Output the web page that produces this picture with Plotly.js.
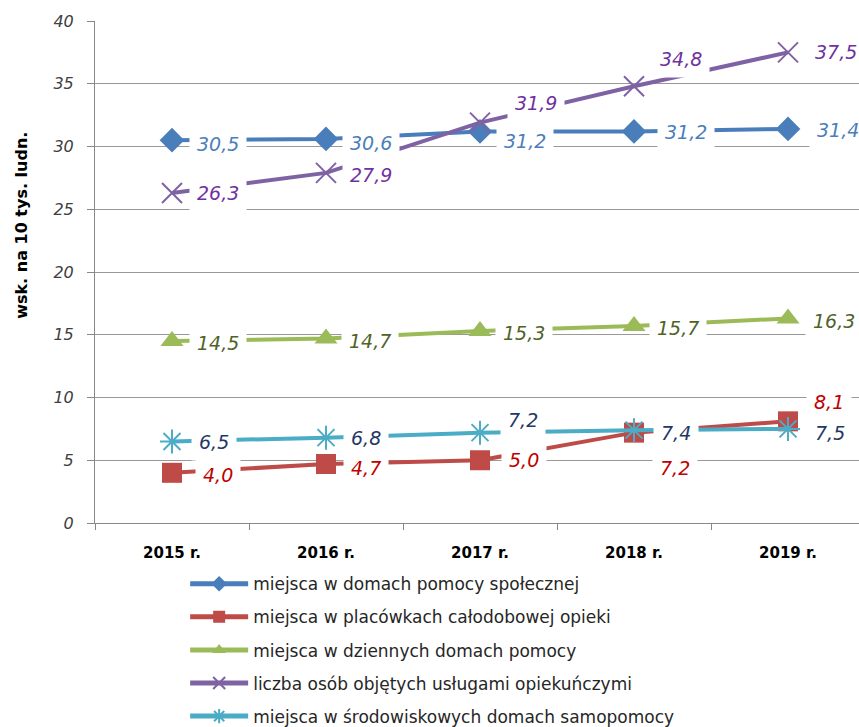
<!DOCTYPE html>
<html><head><meta charset="utf-8">
<script src="https://cdn.plot.ly/plotly-3.0.1.min.js"></script>
<style>html,body{margin:0;padding:0;background:#fff;}</style>
</head><body>
<div id="chart" style="width:859px;height:727px;"></div>
<script>
const categories = ["2015 r.", "2016 r.", "2017 r.", "2018 r.", "2019 r."];
const seriesNames = [
  "miejsca w domach pomocy społecznej",
  "miejsca w placówkach całodobowej opieki",
  "miejsca w dziennych domach pomocy",
  "liczba osób objętych usługami opiekuńczymi",
  "miejsca w środowiskowych domach samopomocy"
];
const dps = [30.5, 30.6, 31.2, 31.2, 31.4];
const calodobowe = [4.0, 4.7, 5.0, 7.2, 8.1];
const dzienne = [14.5, 14.7, 15.3, 15.7, 16.3];
const uslugi = [26.3, 27.9, 31.9, 34.8, 37.5];
const sds = [6.5, 6.8, 7.2, 7.4, 7.5];
const yTicks = [0, 5, 10, 15, 20, 25, 30, 35, 40];
const yTitle = "wsk. na 10 tys. ludn.";

const values = [dps, calodobowe, dzienne, uslugi, sds];
const lineColors = ["#4A7EBB", "#BE4B48", "#9BBB59", "#7F62A4", "#4BACC6"];
const labelColors = ["#4A7EBB", "#C00000", "#4F6228", "#7030A0", "#1F3864"];
const symbols = ["diamond", "square", "triangle-up", "x-thin-open", "asterisk-open"];
const sizes = [19, 20, 20, 20, 20];
// label offsets [xshift, yshift] in px
const offsets = [
  [[46,-4],[45,-4],[45,-10],[52,-1],[50,-1]],
  [[46,-2],[40,-4],[44,0],[41,-35],[41,19]],
  [[46,-2],[44,-2],[44,-2],[44,-2],[46,-3]],
  [[46,0],[45,-2],[56,20],[47,27],[48,0]],
  [[42,-1],[40,0],[43,13],[42,-3],[42,-4]]
];

const traces = values.map((v, i) => ({
  x: categories, y: v, name: seriesNames[i], type: "scatter", mode: "lines+markers",
  legendgroup: "g" + i,
  line: {color: lineColors[i], width: 4},
  marker: {symbol: symbols[i], size: sizes[i], color: lineColors[i],
           line: {color: lineColors[i], width: (i >= 3 ? 2 : 0)}},
  cliponaxis: false
}));

const annotations = [];
values.forEach((v, i) => {
  v.forEach((val, j) => {
    annotations.push({
      x: categories[j], y: val, xref: "x", yref: "y",
      text: val.toFixed(1).replace(".", ","), showarrow: false,
      xshift: offsets[i][j][0], yshift: offsets[i][j][1],
      bgcolor: "#ffffff", borderpad: 7,
      font: {family: "DejaVu Sans", size: 19, style: "italic", color: labelColors[i]}
    });
  });
});
annotations.push({
  xref: "paper", yref: "paper", x: -0.0955, y: 0.592, textangle: -90,
  text: yTitle, showarrow: false, xanchor: "center", yanchor: "middle",
  font: {family: "DejaVu Sans", size: 16, weight: "bold", color: "#000"}
});

const layout = {
  width: 859, height: 727,
  margin: {l: 95, r: 0, t: 21, b: 204, autoexpand: false},
  paper_bgcolor: "#fff", plot_bgcolor: "#fff",
  showlegend: true,
  legend: {x: 0.118, y: -0.086, xanchor: "left", yanchor: "top", orientation: "v",
           traceorder: "grouped", tracegroupgap: 8, itemsizing: "constant",
           font: {family: "DejaVu Sans", size: 17, color: "#262626"}, itemwidth: 58},
  xaxis: {type: "category", range: [-0.5, 4.461], showline: true, linecolor: "#888",
          linewidth: 1, ticks: "outside", ticklen: 6, tickcolor: "#888", tickson: "boundaries",
          showgrid: false, zeroline: false, ticklabelstandoff: 16, automargin: false,
          tickfont: {family: "DejaVu Sans", size: 15, weight: "bold", color: "#000"}},
  yaxis: {range: [0, 40], tickvals: yTicks, showline: true, linecolor: "#888", linewidth: 1,
          ticks: "outside", ticklen: 7, tickcolor: "#888", showgrid: true, gridcolor: "#999",
          gridwidth: 1, zeroline: false, ticklabelstandoff: 10, automargin: false,
          tickfont: {family: "DejaVu Sans", size: 16, style: "italic", color: "#404040"}},
  annotations: annotations
};
Plotly.newPlot("chart", traces, layout, {displayModeBar: false, staticPlot: true});
</script>
</body></html>
